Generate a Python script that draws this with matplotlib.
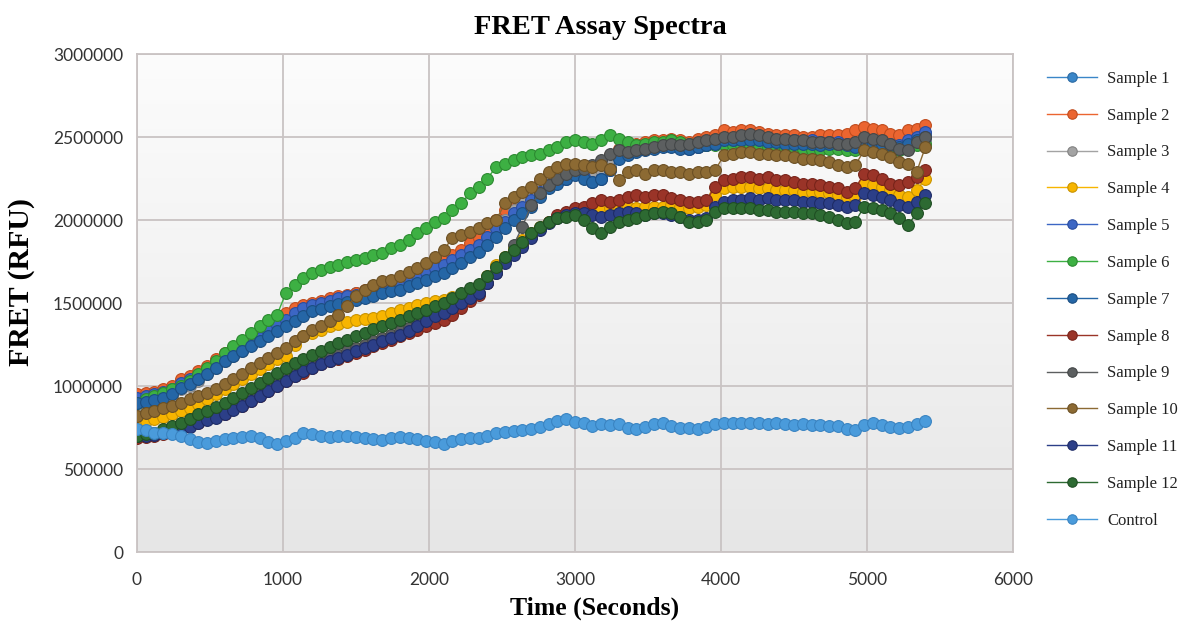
import matplotlib
matplotlib.use("Agg")
import matplotlib.pyplot as plt
from matplotlib.colors import LinearSegmentedColormap
import numpy as np

# readings every 60 s, in thousands of RFU
times = list(range(0, 5401, 60))

sample1 = [945, 955, 960, 975, 990, 1030, 1050, 1070, 1100, 1130,
           1160, 1190, 1220, 1250, 1290, 1330, 1370, 1400, 1430, 1460,
           1490, 1500, 1510, 1530, 1545, 1560, 1570, 1585, 1600, 1615,
           1640, 1650, 1670, 1700, 1720, 1745, 1770, 1800, 1830, 1860,
           1930, 1980, 2020, 2060, 2100, 2140, 2200, 2240, 2260, 2280,
           2290, 2270, 2240, 2260, 2320, 2390, 2410, 2430, 2440, 2450,
           2450, 2460, 2450, 2440, 2450, 2460, 2470, 2490, 2480, 2490,
           2490, 2480, 2480, 2470, 2470, 2470, 2460, 2470, 2460, 2460,
           2460, 2450, 2440, 2480, 2470, 2460, 2450, 2440, 2470, 2490,
           2520]
sample2 = [950, 960, 965, 980, 1000, 1040, 1060, 1090, 1120, 1160,
           1200, 1230, 1260, 1290, 1330, 1370, 1410, 1440, 1470, 1490,
           1500, 1515, 1530, 1540, 1550, 1560, 1580, 1600, 1610, 1630,
           1650, 1660, 1680, 1710, 1730, 1760, 1790, 1820, 1860, 1890,
           1940, 2000, 2060, 2100, 2140, 2180, 2230, 2270, 2290, 2300,
           2310, 2300, 2290, 2330, 2390, 2430, 2450, 2460, 2470, 2480,
           2480, 2490, 2480, 2470, 2490, 2500, 2510, 2540, 2530, 2540,
           2540, 2530, 2520, 2510, 2510, 2510, 2500, 2500, 2510, 2510,
           2510, 2520, 2540, 2560, 2550, 2540, 2520, 2510, 2540, 2550,
           2570]
sample3 = [880, 890, 900, 920, 940, 980, 1000, 1030, 1070, 1110,
           1150, 1180, 1210, 1250, 1290, 1320, 1350, 1380, 1410, 1440,
           1470, 1480, 1490, 1510, 1525, 1540, 1555, 1570, 1580, 1590,
           1610, 1620, 1640, 1670, 1690, 1720, 1750, 1780, 1810, 1840,
           1880, 1940, 2000, 2060, 2110, 2150, 2200, 2230, 2260, 2290,
           2300, 2290, 2270, 2300, 2350, 2400, 2420, 2430, 2440, 2450,
           2450, 2450, 2440, 2440, 2440, 2450, 2460, 2480, 2470, 2480,
           2480, 2470, 2470, 2460, 2460, 2460, 2450, 2460, 2450, 2450,
           2450, 2440, 2430, 2460, 2450, 2440, 2430, 2420, 2450, 2460,
           2480]
sample4 = [780, 790, 800, 815, 830, 850, 870, 890, 920, 950,
           980, 1010, 1040, 1070, 1100, 1130, 1160, 1180, 1250, 1300,
           1320, 1340, 1360, 1375, 1385, 1395, 1405, 1410, 1420, 1440,
           1460, 1470, 1490, 1500, 1510, 1520, 1535, 1550, 1580, 1610,
           1660, 1730, 1780, 1830, 1880, 1920, 1960, 1990, 2020, 2040,
           2050, 2060, 2050, 2060, 2070, 2070, 2080, 2070, 2080, 2080,
           2080, 2090, 2080, 2070, 2080, 2090, 2150, 2190, 2200, 2200,
           2200, 2190, 2190, 2180, 2180, 2180, 2170, 2170, 2170, 2160,
           2150, 2140, 2140, 2220, 2210, 2200, 2180, 2150, 2140, 2180,
           2250]
sample5 = [930, 940, 950, 965, 980, 1020, 1040, 1060, 1090, 1120,
           1160, 1190, 1220, 1250, 1290, 1330, 1370, 1400, 1440, 1470,
           1490, 1500, 1515, 1530, 1540, 1550, 1565, 1580, 1600, 1610,
           1625, 1640, 1660, 1690, 1710, 1730, 1760, 1790, 1820, 1850,
           1900, 1950, 1990, 2040, 2080, 2120, 2170, 2210, 2230, 2250,
           2280, 2260, 2230, 2250, 2300, 2380, 2400, 2420, 2430, 2440,
           2450, 2450, 2440, 2430, 2440, 2450, 2470, 2490, 2490, 2500,
           2500, 2490, 2490, 2480, 2480, 2480, 2470, 2480, 2470, 2470,
           2470, 2460, 2460, 2490, 2480, 2470, 2460, 2450, 2480, 2500,
           2530]
sample6 = [900, 920, 940, 960, 980, 1000, 1030, 1070, 1110, 1150,
           1200, 1240, 1280, 1320, 1360, 1400, 1430, 1560, 1610, 1650,
           1680, 1700, 1720, 1730, 1745, 1760, 1770, 1790, 1800, 1830,
           1850, 1880, 1920, 1950, 1990, 2010, 2060, 2100, 2160, 2200,
           2250, 2320, 2340, 2360, 2380, 2390, 2400, 2420, 2440, 2470,
           2480, 2470, 2460, 2480, 2510, 2490, 2470, 2450, 2460, 2470,
           2470, 2480, 2470, 2460, 2460, 2450, 2450, 2460, 2450, 2450,
           2450, 2440, 2440, 2430, 2430, 2440, 2430, 2420, 2420, 2430,
           2430, 2420, 2420, 2450, 2440, 2440, 2430, 2420, 2430, 2450,
           2460]
sample7 = [900, 905, 915, 930, 950, 990, 1010, 1040, 1070, 1110,
           1150, 1180, 1210, 1240, 1270, 1300, 1330, 1360, 1390, 1420,
           1450, 1465, 1480, 1495, 1505, 1520, 1530, 1545, 1560, 1570,
           1580, 1600, 1620, 1640, 1660, 1680, 1710, 1740, 1780, 1810,
           1850, 1900, 1950, 2000, 2040, 2080, 2140, 2190, 2220, 2250,
           2270, 2250, 2230, 2250, 2300, 2370, 2390, 2410, 2420, 2430,
           2440, 2440, 2430, 2430, 2440, 2450, 2460, 2480, 2480, 2480,
           2480, 2480, 2470, 2470, 2460, 2460, 2460, 2460, 2450, 2460,
           2460, 2450, 2440, 2470, 2460, 2460, 2450, 2440, 2460, 2480,
           2500]
sample8 = [690, 695, 700, 710, 720, 740, 760, 780, 800, 815,
           830, 860, 880, 910, 940, 970, 1000, 1030, 1060, 1080,
           1110, 1130, 1150, 1160, 1180, 1200, 1220, 1240, 1260, 1280,
           1300, 1320, 1340, 1360, 1380, 1400, 1430, 1470, 1510, 1550,
           1620, 1690, 1760, 1800, 1850, 1900, 1950, 1990, 2030, 2050,
           2070, 2080, 2100, 2120, 2110, 2120, 2140, 2150, 2140, 2150,
           2150, 2130, 2120, 2110, 2110, 2120, 2200, 2240, 2250, 2260,
           2260, 2250, 2260, 2240, 2240, 2230, 2220, 2220, 2210, 2200,
           2190, 2170, 2190, 2280, 2270, 2250, 2220, 2210, 2230, 2260,
           2300]
sample9 = [700, 705, 710, 720, 735, 760, 780, 800, 820, 840,
           860, 890, 910, 940, 970, 990, 1020, 1050, 1080, 1100,
           1130, 1150, 1170, 1190, 1210, 1230, 1250, 1270, 1290, 1310,
           1330, 1350, 1380, 1410, 1430, 1460, 1480, 1510, 1540, 1560,
           1620, 1680, 1760, 1850, 1960, 2090, 2160, 2210, 2250, 2280,
           2300, 2310, 2330, 2360, 2400, 2420, 2410, 2420, 2430, 2440,
           2450, 2460, 2450, 2460, 2470, 2480, 2490, 2500, 2500, 2510,
           2520, 2510, 2500, 2490, 2490, 2480, 2480, 2470, 2470, 2470,
           2460, 2460, 2470, 2500, 2490, 2480, 2460, 2430, 2420, 2470,
           2500]
sample10 = [820, 835, 850, 865, 880, 900, 920, 940, 960, 985,
            1010, 1040, 1070, 1110, 1140, 1170, 1200, 1230, 1270, 1300,
            1340, 1360, 1390, 1430, 1480, 1540, 1580, 1610, 1630, 1640,
            1660, 1690, 1710, 1740, 1780, 1820, 1890, 1910, 1930, 1950,
            1980, 2000, 2100, 2140, 2170, 2200, 2250, 2290, 2320, 2340,
            2340, 2330, 2320, 2330, 2310, 2240, 2290, 2300, 2280, 2300,
            2300, 2290, 2290, 2280, 2290, 2290, 2300, 2390, 2400, 2410,
            2410, 2400, 2400, 2390, 2390, 2380, 2370, 2370, 2360, 2350,
            2330, 2320, 2330, 2420, 2410, 2400, 2380, 2350, 2340, 2290,
            2440]
sample11 = [700, 700, 705, 715, 720, 735, 755, 775, 795, 810,
            830, 855, 880, 910, 940, 970, 1000, 1030, 1060, 1090,
            1110, 1130, 1150, 1170, 1190, 1210, 1230, 1250, 1270, 1290,
            1310, 1330, 1360, 1390, 1420, 1440, 1470, 1500, 1530, 1560,
            1620, 1680, 1740, 1790, 1840, 1890, 1940, 1980, 2010, 2030,
            2040, 2040, 2030, 2020, 2030, 2040, 2050, 2040, 2030, 2040,
            2040, 2030, 2020, 2000, 2000, 2010, 2080, 2110, 2120, 2120,
            2130, 2120, 2130, 2120, 2120, 2120, 2110, 2110, 2100, 2100,
            2090, 2080, 2090, 2160, 2150, 2140, 2120, 2090, 2080, 2110,
            2150]
sample12 = [700, 710, 720, 740, 760, 780, 800, 830, 850, 875,
            900, 930, 960, 990, 1020, 1050, 1080, 1110, 1140, 1160,
            1190, 1210, 1235, 1260, 1280, 1300, 1320, 1345, 1360, 1380,
            1400, 1420, 1440, 1460, 1480, 1500, 1530, 1560, 1590, 1615,
            1660, 1720, 1780, 1820, 1870, 1920, 1960, 1990, 2010, 2020,
            2030, 2000, 1950, 1920, 1960, 1990, 2000, 2010, 2030, 2040,
            2050, 2040, 2020, 1990, 1990, 2000, 2050, 2070, 2070, 2070,
            2070, 2060, 2060, 2050, 2050, 2050, 2040, 2040, 2030, 2020,
            2000, 1980, 1990, 2080, 2070, 2060, 2040, 2010, 1970, 2040,
            2100]
control = [740, 735, 720, 715, 710, 700, 680, 660, 655, 670,
           680, 690, 695, 700, 690, 665, 650, 670, 690, 715,
           710, 700, 695, 700, 700, 695, 690, 680, 675, 685,
           695, 690, 680, 670, 660, 650, 670, 680, 690, 685,
           700, 715, 725, 730, 735, 740, 755, 770, 790, 800,
           785, 775, 760, 770, 765, 770, 745, 740, 755, 770,
           780, 760, 750, 745, 740, 755, 770, 775, 780, 775,
           780, 775, 770, 775, 770, 765, 770, 765, 765, 760,
           760, 740, 735, 765, 780, 765, 755, 750, 755, 770,
           790]

labels = ["Sample 1", "Sample 2", "Sample 3", "Sample 4", "Sample 5", "Sample 6",
          "Sample 7", "Sample 8", "Sample 9", "Sample 10", "Sample 11", "Sample 12",
          "Control"]
series = [sample1, sample2, sample3, sample4, sample5, sample6, sample7,
          sample8, sample9, sample10, sample11, sample12, control]
colors = ["#3A86C8", "#EB6530", "#A3A3A3", "#F7B500", "#3C66C4", "#3DB043",
          "#2566A6", "#9A3428", "#5C5F60", "#8C6A33", "#2C3F88", "#2D6A32",
          "#4A9BDB"]
edges = ["#2B6AA3", "#C04C1E", "#828282", "#C99300", "#2A4C9E", "#2C8A30",
         "#1B4E82", "#78241A", "#444748", "#6C5024", "#1E2C66", "#1F4E23",
         "#3A84C2"]

fig = plt.figure(figsize=(11.96, 6.21), dpi=100)
ax = fig.add_axes([0.1145, 0.111, 0.7325, 0.802])

# grey gradient background of the plot area
bg = LinearSegmentedColormap.from_list("bg", ["#E6E6E6", "#F2F2F2", "#FCFCFC"])
ax.imshow(np.linspace(0, 1, 256).reshape(-1, 1), cmap=bg, origin="lower",
          extent=[0, 6000, 0, 3000000], aspect="auto", zorder=0)

for name, vals, c, ec in zip(labels, series, colors, edges):
    ax.plot(times, np.array(vals) * 1000, color=c, lw=1.0, marker="o",
            markersize=8.5, markerfacecolor=c, markeredgecolor=ec,
            markeredgewidth=0.8, label=name, zorder=3)

ax.set_xlim(0, 6000)
ax.set_ylim(0, 3000000)
ax.set_xticks(range(0, 6001, 1000))
ax.set_yticks(range(0, 3000001, 500000))
ax.ticklabel_format(axis="y", style="plain", useOffset=False)
ax.grid(True, color="#C9C3C3", lw=1.3, zorder=1)
ax.set_axisbelow(True)
for s in ax.spines.values():
    s.set_color("#C9C3C3")
    s.set_linewidth(1.3)
ax.tick_params(length=0, labelsize=12.5, colors="#333333")
ax.tick_params(axis="x", pad=14)
ax.tick_params(axis="y", pad=10)
for lab in ax.get_xticklabels() + ax.get_yticklabels():
    lab.set_family("Lato")

fig.text(0.502, 0.955, "FRET Assay Spectra", ha="center", va="center",
         family="Liberation Serif", weight="bold", fontsize=20.5)
fig.text(0.497, 0.021, "Time (Seconds)", ha="center", va="center",
         family="Liberation Serif", weight="bold", fontsize=18.5)
fig.text(0.018, 0.546, "FRET (RFU)", ha="center", va="center", rotation=90,
         family="Liberation Serif", weight="bold", fontsize=21.5)

leg = ax.legend(loc="upper left", bbox_to_anchor=(1.02, 1.0), frameon=False,
                handlelength=3.0, handletextpad=0.6, labelspacing=1.25,
                markerscale=0.8, borderaxespad=0.6,
                prop={"family": "Liberation Serif", "size": 12})
for t in leg.get_texts():
    t.set_color("#222222")

fig.savefig("out.png", dpi=100)
